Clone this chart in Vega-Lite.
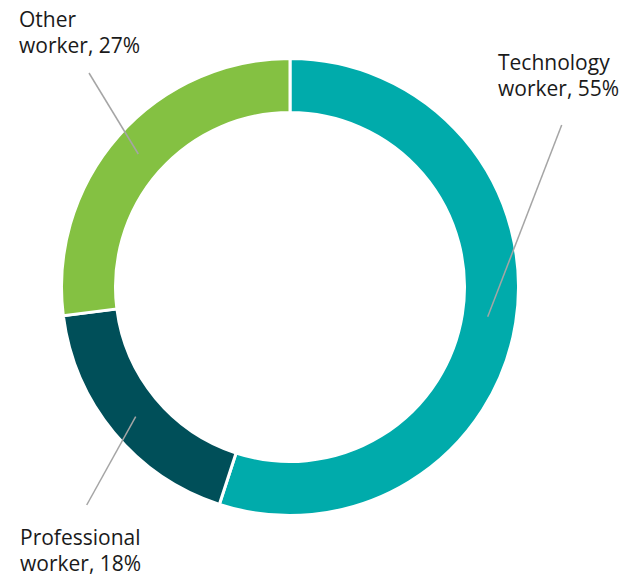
{
  "$schema": "https://vega.github.io/schema/vega-lite/v6.json",
  "width": 621,
  "height": 578,
  "padding": 0,
  "autosize": {"type": "fit", "contains": "padding"},
  "background": "white",
  "config": {"view": {"stroke": null}},
  "datasets": {
    "shares": [
      {"category": "Technology worker", "share": 55, "rank": 1},
      {"category": "Professional worker", "share": 18, "rank": 2},
      {"category": "Other worker", "share": 27, "rank": 3}
    ],
    "leaders": [
      {"category": "Technology worker", "x1": 561.7, "y1": 125, "x2": 487.7, "y2": 316.7},
      {"category": "Professional worker", "x1": 135.7, "y1": 416.7, "x2": 86.7, "y2": 505},
      {"category": "Other worker", "x1": 89, "y1": 73, "x2": 138.3, "y2": 154}
    ],
    "labels": [
      {"category": "Technology worker", "label": "Technology\nworker, 55%", "lx": 498, "ly": 69.5},
      {"category": "Professional worker", "label": "Professional\nworker, 18%", "lx": 20, "ly": 545},
      {"category": "Other worker", "label": "Other\nworker, 27%", "lx": 19, "ly": 26.5}
    ]
  },
  "resolve": {"scale": {"x": "shared", "y": "shared"}},
  "layer": [
    {
      "data": {"name": "shares"},
      "mark": {"type": "arc", "outerRadius": 228.5, "innerRadius": 174.5, "stroke": "white", "strokeWidth": 3},
      "encoding": {
        "theta": {"field": "share", "type": "quantitative", "stack": true},
        "order": {"field": "rank", "type": "quantitative"},
        "color": {
          "field": "category",
          "type": "nominal",
          "scale": {"domain": ["Technology worker", "Professional worker", "Other worker"], "range": ["#00ABAB", "#004F59", "#84C142"]},
          "legend": null
        },
        "x": {"datum": 290, "type": "quantitative", "scale": {"domain": [0, 621], "nice": false, "zero": false}, "axis": null},
        "y": {"datum": 287, "type": "quantitative", "scale": {"domain": [0, 578], "nice": false, "zero": false, "reverse": true}, "axis": null}
      }
    },
    {
      "data": {"name": "leaders"},
      "mark": {"type": "rule", "color": "#A5A5A5", "strokeWidth": 1.5},
      "encoding": {
        "x": {"field": "x1", "type": "quantitative"},
        "y": {"field": "y1", "type": "quantitative"},
        "x2": {"field": "x2"},
        "y2": {"field": "y2"}
      }
    },
    {
      "data": {"name": "labels"},
      "mark": {"type": "text", "align": "left", "baseline": "alphabetic", "font": "Open Sans", "fontSize": 21, "lineHeight": 26, "lineBreak": "\n", "color": "#1A1A1A"},
      "encoding": {
        "x": {"field": "lx", "type": "quantitative"},
        "y": {"field": "ly", "type": "quantitative"},
        "text": {"field": "label"}
      }
    }
  ]
}
